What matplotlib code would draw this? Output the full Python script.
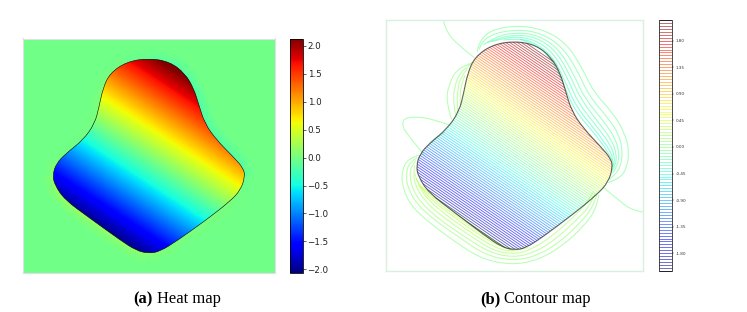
import matplotlib
matplotlib.use("Agg")
import matplotlib.pyplot as plt
import numpy as np
from matplotlib.collections import LineCollection
from matplotlib.colors import Normalize
from matplotlib.patches import PathPatch
from matplotlib.path import Path

# all shapes share one coordinate frame: x 18..790, y 30..783 (y pointing down)
outline_x = [403, 468, 514, 541, 557, 575, 611, 662, 693, 698, 685, 652, 580, 488, 437,
             403, 365, 314, 223, 146, 115, 109, 120, 151, 202, 238, 251, 263, 284, 335]
outline_y = [93, 105, 142, 190, 244, 303, 356, 410, 446, 473, 516, 553, 612, 681, 714,
             720, 711, 676, 607, 548, 500, 468, 431, 398, 356, 303, 249, 190, 142, 105]
# value just outside the boundary, one per outline point (heat map halo)
halo_values = [-0.25, -0.35, -0.4, -0.45, -0.45, -0.45, -0.45, -0.4, -0.3, -0.1, 0.05, 0.1, 0.1, 0.15, 0.2,
               0.3, 0.35, 0.4, 0.45, 0.45, 0.3, 0.2, 0.05, 0.0, 0.05, 0.1, 0.15, 0.1, 0.0, -0.15]

grid_x = [0, 200, 400, 600, 800]
grid_y = [0, 200, 400, 600, 800]
grid_values = [
    [0.89, 1.75, 2.61, 3.47, 4.33],
    [-0.37, 0.49, 1.35, 2.21, 3.07],
    [-1.64, -0.78, 0.08, 0.94, 1.80],
    [-2.90, -2.04, -1.18, -0.32, 0.54],
    [-4.16, -3.30, -2.44, -1.58, -0.72],
]
outside_value = -0.02

heat_ticks = [-2.0, -1.5, -1.0, -0.5, 0.0, 0.5, 1.0, 1.5, 2.0]
contour_ticks = [-1.80, -1.35, -0.90, -0.45, 0.0, 0.45, 0.90, 1.35, 1.80]

# contour lines outside the shape
upper_right_levels = [-0.05, -0.10, -0.15, -0.20, -0.25, -0.30, -0.35]
upper_right_lines = [
    [(292, 125), (295, 100), (330, 60), (410, 46), (490, 58), (560, 100), (610, 180), (640, 245),
     (700, 310), (735, 370), (748, 425), (740, 475), (720, 505), (685, 518)],
    [(298, 118), (302, 100), (335, 72), (410, 58), (480, 68), (545, 108), (592, 180), (625, 255),
     (685, 325), (718, 375), (728, 425), (722, 470), (705, 495), (688, 508)],
    [(310, 105), (345, 80), (410, 67), (475, 76), (535, 115), (580, 190), (612, 262), (672, 335),
     (706, 385), (718, 430), (714, 465), (698, 490)],
    [(322, 98), (355, 84), (410, 74), (470, 82), (528, 122), (570, 195), (603, 270), (662, 345),
     (698, 395), (710, 435), (707, 465), (695, 485)],
    [(335, 95), (365, 86), (410, 80), (465, 89), (522, 130), (563, 205), (595, 280), (655, 355),
     (692, 405), (704, 440), (702, 465), (695, 480)],
    [(370, 90), (410, 85), (460, 95), (518, 138), (556, 215), (588, 290), (650, 365), (686, 415),
     (700, 445), (698, 470)],
    [(420, 88), (460, 99), (515, 145), (552, 225), (583, 300), (645, 372), (682, 422), (696, 450)],
]

upper_left_levels = [0.05, 0.10, 0.15, 0.20]
upper_left_lines = [
    [(282, 157), (235, 170), (205, 225), (199, 280), (215, 328)],
    [(272, 162), (240, 185), (222, 235), (220, 285), (228, 318)],
    [(262, 175), (240, 205), (232, 245), (232, 290), (234, 308)],
    [(255, 195), (243, 225), (240, 260), (241, 285)],
]

lower_left_levels = [0.05, 0.10, 0.15, 0.20, 0.25, 0.30, 0.35, 0.40]
lower_left_lines = [
    [(118, 435), (85, 445), (66, 480), (66, 525), (90, 585), (150, 640), (218, 690), (300, 745),
     (390, 765), (470, 752), (545, 710), (610, 650), (648, 600), (657, 555)],
    [(112, 442), (88, 458), (78, 490), (82, 530), (108, 580), (165, 632), (235, 680), (315, 735),
     (395, 752), (465, 740), (535, 700), (600, 640), (640, 590), (650, 555)],
    [(108, 452), (92, 470), (90, 500), (97, 535), (122, 578), (178, 628), (250, 678), (330, 728),
     (398, 742), (458, 730), (525, 690), (590, 630), (632, 585), (645, 550)],
    [(104, 466), (100, 490), (105, 525), (135, 575), (190, 622), (262, 672), (340, 722), (400, 733),
     (452, 720), (515, 680), (582, 620), (625, 575), (640, 545)],
    [(104, 490), (116, 530), (148, 574), (200, 616), (272, 668), (350, 716), (402, 726), (445, 712)],
    [(108, 505), (128, 542), (160, 574), (212, 614), (284, 666), (358, 710), (400, 720)],
    [(116, 525), (170, 576), (225, 615), (295, 666), (365, 708), (400, 722)],
    [(125, 530), (180, 575), (240, 618), (310, 670), (375, 712)],
]

single_levels = [0.0, 0.0, 0.0, 0.05]
single_lines = [
    [(190, 30), (196, 60), (233, 105), (283, 143)],
    [(208, 345), (158, 327), (108, 320), (73, 325), (66, 342), (78, 370), (133, 435)],
    [(668, 530), (720, 575), (760, 602), (792, 607)],
    [(148, 400), (168, 380), (193, 368)],
]

W, H = 747, 312


def px_axes(fig, left, top, right, bottom):
    return fig.add_axes([left / W, 1 - bottom / H, (right - left) / W, (bottom - top) / H])


def smooth_path(points, closed=False):
    """Quadratic curve through the midpoints, so the reading points stay smooth."""
    pts = np.asarray(points, dtype=float)
    if closed:
        mids = (pts + np.roll(pts, -1, axis=0)) / 2
        verts = [mids[-1]]
        codes = [Path.MOVETO]
        for p, m in zip(pts, mids):
            verts += [p, m]
            codes += [Path.CURVE3, Path.CURVE3]
        return Path(verts, codes)
    verts = [pts[0]]
    codes = [Path.MOVETO]
    for i in range(1, len(pts) - 1):
        end = pts[i + 1] if i == len(pts) - 2 else (pts[i] + pts[i + 1]) / 2
        verts += [pts[i], end]
        codes += [Path.CURVE3, Path.CURVE3]
    return Path(verts, codes)


def frame(ax, color, lw):
    ax.set_xlim(18, 790)
    ax.set_ylim(783, 30)
    ax.set_xticks([])
    ax.set_yticks([])
    for spine in ax.spines.values():
        spine.set_color(color)
        spine.set_linewidth(lw)


fig = plt.figure(figsize=(W / 100, H / 100), dpi=100)
outline = smooth_path(list(zip(outline_x, outline_y)), closed=True)
outline_pts = np.column_stack([outline_x + outline_x[:1], outline_y + outline_y[:1]])

# (a) heat map
ax1 = px_axes(fig, 23, 38.5, 275, 273)
heat_norm = Normalize(-2.066, 2.134)
ax1.set_facecolor(plt.cm.jet(heat_norm(outside_value)))

segments = np.stack([outline_pts[:-1], outline_pts[1:]], axis=1)
for lw, alpha in [(14, 0.1), (9, 0.13), (4, 0.2)]:
    halo = LineCollection(segments, cmap="jet", norm=heat_norm, linewidths=lw, alpha=alpha,
                          capstyle="butt", joinstyle="round")
    halo.set_array(np.array(halo_values))
    ax1.add_collection(halo)

# cell centres sit on the grid points, bilinear filling does the rest
step = grid_x[1] - grid_x[0]
heat = ax1.imshow(np.array(grid_values), cmap="jet", norm=heat_norm, interpolation="bilinear",
                  extent=[grid_x[0] - step / 2, grid_x[-1] + step / 2,
                          grid_y[-1] + step / 2, grid_y[0] - step / 2],
                  aspect="auto", zorder=2)
heat.set_clip_path(PathPatch(outline, transform=ax1.transData))
ax1.add_patch(PathPatch(outline, fill=False, edgecolor="black", linewidth=0.4, zorder=3))
frame(ax1, "#dfdfea", 0.8)

cax1 = px_axes(fig, 290, 38.5, 302.7, 273)
cb1 = fig.colorbar(heat, cax=cax1, ticks=heat_ticks)
cb1.ax.tick_params(labelsize=6.3, length=2, width=0.5, pad=1.5, colors="#222222")
cb1.outline.set_linewidth(0.6)

# (b) contour map
ax2 = px_axes(fig, 386, 20, 643.3, 271)
frame(ax2, "#d8f0e0", 1.0)
levels = np.arange(-2.10, 2.151, 0.05)
cs = ax2.contour(grid_x, grid_y, np.array(grid_values), levels=levels, cmap="jet",
                 linewidths=0.65, alpha=0.6, zorder=2)
cs.set_clip_path(PathPatch(outline, transform=ax2.transData))

for group, group_levels in [(upper_right_lines, upper_right_levels),
                            (upper_left_lines, upper_left_levels),
                            (lower_left_lines, lower_left_levels),
                            (single_lines, single_levels)]:
    for line, level in zip(group, group_levels):
        ax2.add_patch(PathPatch(smooth_path(line), fill=False, linewidth=0.8, alpha=0.55,
                                edgecolor=cs.cmap(cs.norm(level))))

ax2.add_patch(PathPatch(outline, fill=False, edgecolor="#222222", linewidth=0.8, alpha=0.7, zorder=3))

cax2 = px_axes(fig, 659.3, 20, 671.7, 271)
cb2 = fig.colorbar(cs, cax=cax2, ticks=contour_ticks, format="%.2f")
cb2.ax.tick_params(labelsize=3, length=1.5, width=0.3, pad=1.5, colors="#333333")
cb2.outline.set_linewidth(0.5)

# captions
serif = "Liberation Serif"
for x_bold, bold, x_rest, rest in [(133, "(a)", 156.7, "Heat map"), (480, "(b)", 504.3, "Contour map")]:
    fig.text(x_bold / W, 1 - 303 / H, bold, family=serif, weight="bold", size=11.9, va="baseline")
    fig.text(x_rest / W, 1 - 303 / H, rest, family=serif, size=11.9, va="baseline")

plt.savefig("out.png", dpi=100)
